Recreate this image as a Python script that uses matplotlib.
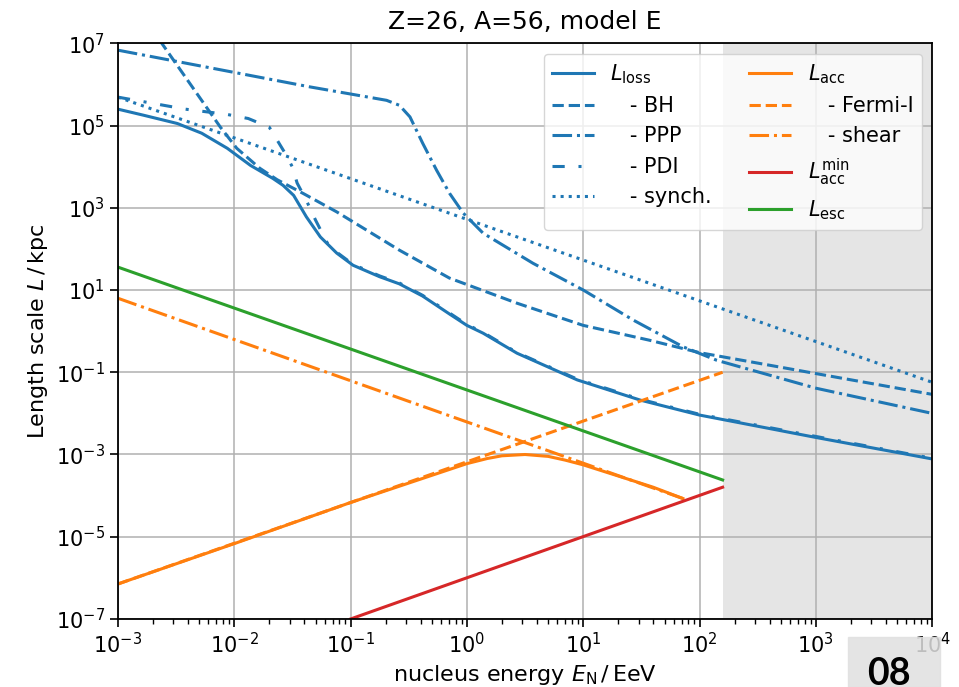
import numpy as np
import matplotlib.pyplot as plt
from matplotlib.patches import Rectangle

# values: energy in EeV, length scale in kpc
E_loss = [1e-3, 1.66e-3, 3.24e-3, 5.25e-3, 8.7e-3, 1.38e-2, 2.14e-2, 2.63e-2, 3.24e-2,
          4.17e-2, 5.5e-2, 7.6e-2, 0.105, 0.178, 0.263, 0.417, 0.71, 1.0, 1.38, 2.7,
          8.9, 31, 100, 1000, 1e4]
L_loss = [2.5e5, 1.78e5, 1.12e5, 6.5e4, 2.8e4, 1.07e4, 5.2e3, 3.5e3, 2.0e3,
          6.0e2, 1.95e2, 79, 40, 21, 14.1, 7.1, 2.6, 1.38, 0.89, 0.29,
          0.065, 0.021, 9.1e-3, 2.6e-3, 7.8e-4]

E_bh = [1.9e-3, 2.45e-3, 7.6e-3, 1.05e-2, 1.66e-2, 2.34e-2, 3.9e-2, 7.6e-2, 0.263,
        0.708, 2.69, 10, 37.2, 100, 1000, 1e4]
L_bh = [2.5e7, 8.9e6, 9.1e4, 2.8e4, 9.1e3, 4.8e3, 2.24e3, 794, 93,
        19.5, 4.79, 1.38, 0.60, 0.30, 0.093, 0.029]

E_ppp = [1e-3, 4.47e-2, 0.204, 0.263, 0.324, 0.417, 0.55, 0.71, 0.93, 1.38, 3.7,
         10, 26.9, 72, 141, 1000, 1e4]
L_ppp = [6.8e6, 8.7e5, 4.1e5, 3.1e5, 1.62e5, 3.7e4, 8.1e3, 2.24e3, 741, 240, 44.7,
         10, 1.86, 0.417, 0.195, 0.041, 0.01]

E_pdi = [1e-3, 3.8e-3, 8.7e-3, 1.32e-2, 2.0e-2, 2.4e-2, 2.8e-2, 3.16e-2, 3.47e-2,
         4.17e-2, 5.0e-2, 6.3e-2, 7.6e-2, 0.105, 0.178, 0.263, 0.417, 0.71, 1.0,
         1.38, 2.7, 8.9, 31, 100, 1000, 1e4]
L_pdi = [4.9e5, 2.5e5, 1.86e5, 1.48e5, 9.1e4, 3.9e4, 1.9e4, 9.8e3, 4.0e3,
         1.5e3, 500, 140, 83, 42, 22, 14.8, 7.4, 2.75, 1.45,
         0.93, 0.30, 0.068, 0.022, 9.5e-3, 2.75e-3, 8.1e-4]

E_syn = [1e-3, 1e4]
L_syn = [4.9e5, 0.057]

E_acc = [1e-3, 1e-2, 0.1, 1.0, 1.5, 2.0, 3.16, 5.0, 7.0, 10, 20, 40, 72]
L_acc = [7.1e-7, 6.8e-6, 6.8e-5, 6.0e-4, 8.0e-4, 9.3e-4, 1.0e-3, 9.0e-4, 7.3e-4,
         5.6e-4, 3.0e-4, 1.6e-4, 8.5e-5]

E_fermi = [1e-3, 158]
L_fermi = [7.1e-7, 0.1]

E_shear = [1e-3, 72]
L_shear = [6.3, 8.5e-5]

E_accmin = [0.1, 158]
L_accmin = [1e-7, 1.6e-4]

E_esc = [1e-3, 158]
L_esc = [36, 2.4e-4]

E_shade = 158   # grey band starts here

blue, orange, red, green = 'tab:blue', 'tab:orange', 'tab:red', 'tab:green'
lw = 2.2

fig = plt.figure(figsize=(9.59, 6.87), dpi=100)
ax = fig.add_axes([0.123, 0.099, 0.849, 0.838])

ax.plot(E_loss, L_loss, color=blue, lw=lw, label=r'$L_\mathrm{loss}$')
ax.plot(E_bh, L_bh, '--', color=blue, lw=lw, label='   - BH')
ax.plot(E_ppp, L_ppp, '-.', color=blue, lw=lw, label='   - PPP')
ax.plot(E_pdi, L_pdi, ls=(0, (4, 4.5, 1, 4.5)), color=blue, lw=lw, label='   - PDI')
ax.plot(E_syn, L_syn, ':', color=blue, lw=lw, label='   - synch.')
ax.plot(E_acc, L_acc, color=orange, lw=lw, label=r'$L_\mathrm{acc}$')
ax.plot(E_fermi, L_fermi, '--', color=orange, lw=lw, label='   - Fermi-I')
ax.plot(E_shear, L_shear, '-.', color=orange, lw=lw, label='   - shear')
ax.plot(E_accmin, L_accmin, color=red, lw=lw, label=r'$L_\mathrm{acc}^\mathrm{min}$')
ax.plot(E_esc, L_esc, color=green, lw=lw, label=r'$L_\mathrm{esc}$')

ax.axvspan(E_shade, 1e4, color='gray', alpha=0.2, lw=0, zorder=0)

ax.set_xscale('log')
ax.set_yscale('log')
ax.set_xlim(1e-3, 1e4)
ax.set_ylim(1e-7, 1e7)
ax.grid(True, lw=1.1)
ax.tick_params(labelsize=15, width=1.2, length=6)
ax.tick_params(which='minor', width=1.0, length=3.5)
for s in ax.spines.values():
    s.set_linewidth(1.3)

ax.set_xlabel(r'nucleus energy $E_\mathrm{N}\,/\,$EeV', fontsize=16)
ax.set_ylabel(r'Length scale $L\,/\,$kpc', fontsize=16)
ax.set_title('Z=26, A=56, model E', fontsize=18, pad=10)
ax.legend(ncol=2, loc='upper right', fontsize=15, columnspacing=1.8)

# slide number badge in the corner
fig.patches.append(Rectangle((848 / 959, 0), 92 / 959, 50 / 687, transform=fig.transFigure,
                             color='#e0e0e0', alpha=0.85, zorder=5))
fig.text(889 / 959, 0.043, '08', ha='center', va='top', fontsize=27,
         fontweight='bold', family='Lato', zorder=6)

fig.savefig('out.png')
